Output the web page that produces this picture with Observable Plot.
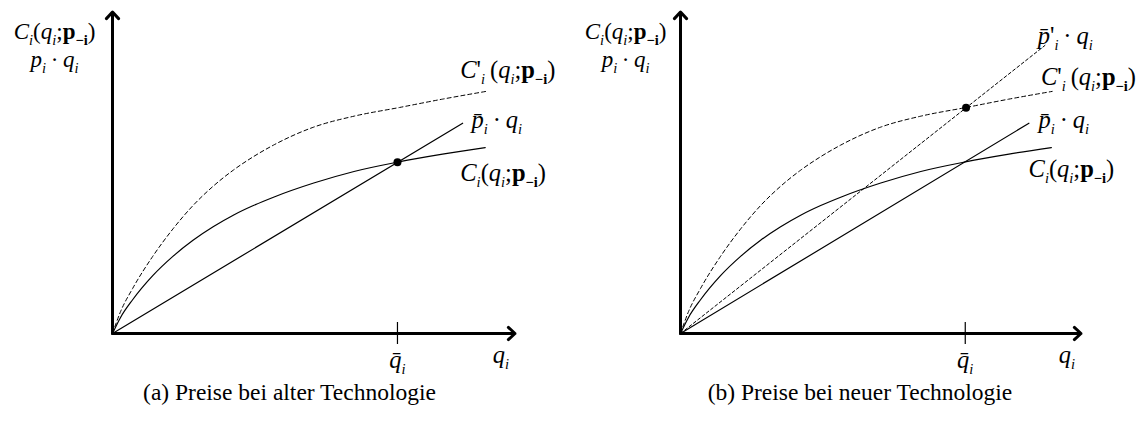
<!DOCTYPE html>
<html><head><meta charset="utf-8">
<script src="https://cdn.jsdelivr.net/npm/d3@7"></script>
<script src="https://cdn.jsdelivr.net/npm/@observablehq/plot@0.6"></script>
<style>
body{margin:0;background:#fff;}
#wrap{display:flex;width:1141px;height:421px;overflow:hidden;}
.panel{flex:none;}
.cap{font-family:"Liberation Serif",serif;font-size:23.5px;text-align:center;line-height:34px;color:#000;padding-left:9px;}
</style></head><body><div id="wrap"></div>
<script>
// ---- data (abstract units 0..100) ----
const qSolid   = [0, 2, 5, 10, 15, 20, 25, 30, 35, 40, 50, 60, 70.8, 82, 92.6];
const costOld  = [0, 5, 10.5, 18, 24, 29, 33.2, 36.8, 39.8, 42.4, 46.8, 50.4, 53.3, 55.8, 57.8];
const qDashed  = [0, 2, 5, 10, 15, 20, 25, 30, 35, 40, 50, 60, 71.3, 82, 92.8];
const costNew  = [0, 6.8, 14, 24, 32.5, 39.8, 45.8, 50.8, 55.0, 58.6, 64.2, 67.6, 70.3, 72.9, 75.3];
const priceOldQ = [0, 87];
const priceOld  = [0, 65.4];
const priceNewQ = [0, 91];
const priceNew  = [0, 89.6];
const qBar = [70.8, 71.1];          // panel a, panel b
const eqA = [{q: 70.8, v: 53.3}];   // equilibrium point, panel a
const eqB = [{q: 71.3, v: 70.2}];   // equilibrium point, panel b
const axisLines = [{x1: 0, y1: 0, x2: 100, y2: 0}, {x1: 0, y1: 0, x2: 0, y2: 100}];

const yLab1 = "C_{i}(q_{i};\\b{p}_{\\b{−i}})";
const yLab2 = "p_{i}\u2009·\u2009q_{i}";
const labC  = "C_{i}(q_{i};\\b{p}_{\\b{−i}})";
const labCn = "C'_{i}\u2009(q_{i};\\b{p}_{\\b{−i}})";
const labP  = "p\u0304_{i}\u2009·\u2009q_{i}";
const labPn = "p\u0304'_{i}\u2009·\u2009q_{i}";
const labQbar = "q\u0304_{i}";
const labQ = "q_{i}";

const axisTitlesA = [{x: -14.4, y: 94.0, t: yLab1}, {x: -14.4, y: 85.2, t: yLab2}];
const axisTitlesB = [{x: -13.7, y: 94.0, t: yLab1}, {x: -13.7, y: 85.2, t: yLab2}];
const curveLabelsA = [{x: 86.4, y: 82.0, t: labCn}, {x: 89.2, y: 66.3, t: labP}, {x: 86.4, y: 49.8, t: labC}];
const curveLabelsB = [{x: 89.2, y: 92.6, t: labPn}, {x: 90.0, y: 79.8, t: labCn}, {x: 89.4, y: 66.3, t: labP}, {x: 86.9, y: 51.2, t: labC}];
const bottomLabelsA = [{x: 70.8, y: -8.2, t: labQbar}, {x: 96.5, y: -6.8, t: labQ}];
const bottomLabelsB = [{x: 71.1, y: -8.2, t: labQbar}, {x: 96.5, y: -6.8, t: labQ}];
const captions = ["(a) Preise bei alter Technologie", "(b) Preise bei neuer Technologie"];

// ---- helpers ----
const zip = (xs, ys) => xs.map((q, i) => ({q, v: ys[i]}));
const FS = 24.5, FS_Y = 23, SUB = 14.5, SHIFT = 6;
const SERIF = "Liberation Serif";

function closeBrace(s, open) {
  let d = 0;
  for (let k = open; k < s.length; k++) {
    if (s[k] === "{") d++;
    else if (s[k] === "}") { d--; if (d === 0) return k; }
  }
  return s.length;
}
function parseRich(s) {
  const out = [];
  const run = (str, sub, bold) => {
    let k = 0;
    while (k < str.length) {
      if (str[k] === "_" && str[k + 1] === "{") {
        const e = closeBrace(str, k + 1); run(str.slice(k + 2, e), true, bold); k = e + 1;
      } else if (str[k] === "\\" && str[k + 1] === "b" && str[k + 2] === "{") {
        const e = closeBrace(str, k + 2); run(str.slice(k + 3, e), sub, true); k = e + 1;
      } else {
        const c = str[k];
        const italic = !bold && /[A-Za-z\u0304]/.test(c);
        const last = out[out.length - 1];
        if (last && last.italic === italic && last.bold === bold && last.sub === sub) last.t += c;
        else out.push({t: c, italic, bold, sub});
        k++;
      }
    }
  };
  run(s, false, false);
  return out;
}
function richify(svg) {
  svg.querySelectorAll('g[aria-label="text"] text').forEach(el => {
    const runs = parseRich(el.textContent);
    el.textContent = "";
    el.style.whiteSpace = "pre";
    let inSub = false;
    for (const r of runs) {
      const ts = document.createElementNS("http://www.w3.org/2000/svg", "tspan");
      ts.textContent = r.t;
      if (r.italic) ts.setAttribute("font-style", "italic");
      if (r.bold) ts.setAttribute("font-weight", "bold");
      if (r.sub) ts.setAttribute("font-size", SUB);
      if (r.sub && !inSub) ts.setAttribute("dy", SHIFT);
      if (!r.sub && inSub) ts.setAttribute("dy", -SHIFT);
      inSub = r.sub;
      el.appendChild(ts);
    }
  });
}

function panel({width, ox, tip, qbar, eq, showNewPrice, axisTitles, curveLabels, bottomLabels, caption}) {
  const txt = {x: "x", y: "y", text: "t", fontSize: FS, fontFamily: SERIF, fill: "black"};
  const marks = [
    Plot.line(zip(qDashed, costNew), {x: "q", y: "v", curve: "monotone-x", stroke: "black", strokeWidth: 1, strokeDasharray: "4,3"}),
    Plot.line(zip(qSolid, costOld), {x: "q", y: "v", curve: "monotone-x", stroke: "black", strokeWidth: 1.2}),
    Plot.line(zip(priceOldQ, priceOld), {x: "q", y: "v", stroke: "black", strokeWidth: 1.2}),
  ];
  if (showNewPrice) marks.push(Plot.line(zip(priceNewQ, priceNew), {x: "q", y: "v", stroke: "black", strokeWidth: 1, strokeDasharray: "3,2.5"}));
  marks.push(
    Plot.ruleX([qbar], {x: d => d, y1: 0, y2: 0, insetTop: -11, insetBottom: -11, stroke: "black", strokeWidth: 1.2}),
    Plot.arrow(axisLines, {x1: "x1", y1: "y1", x2: "x2", y2: "y2", stroke: "black", strokeWidth: 3, headLength: 4.5, headAngle: 85}),
    Plot.dot(eq, {x: "q", y: "v", r: 4, fill: "black"}),
    Plot.text(axisTitles, {...txt, fontSize: FS_Y, textAnchor: "middle"}),
    Plot.text(curveLabels, {...txt, textAnchor: "start"}),
    Plot.text(bottomLabels, {...txt, textAnchor: "middle"})
  );
  const svg = Plot.plot({
    width, height: 375,
    x: {domain: [0, 100], range: [ox, tip], axis: null},
    y: {domain: [0, 100], range: [333, 11.5], axis: null},
    style: {background: "white", fontFamily: "'Liberation Serif', serif", overflow: "visible", color: "black"},
    marks
  });
  richify(svg);
  const div = document.createElement("div");
  div.className = "panel";
  div.style.width = width + "px";
  div.appendChild(svg);
  const cap = document.createElement("div");
  cap.className = "cap";
  cap.textContent = caption;
  div.appendChild(cap);
  return div;
}

const wrap = document.getElementById("wrap");
wrap.appendChild(panel({width: 570, ox: 112, tip: 514.5, qbar: qBar[0], eq: eqA, showNewPrice: false,
  axisTitles: axisTitlesA, curveLabels: curveLabelsA, bottomLabels: bottomLabelsA, caption: captions[0]}));
wrap.appendChild(panel({width: 571, ox: 110, tip: 510.5, qbar: qBar[1], eq: eqB, showNewPrice: true,
  axisTitles: axisTitlesB, curveLabels: curveLabelsB, bottomLabels: bottomLabelsB, caption: captions[1]}));
</script></body></html>
